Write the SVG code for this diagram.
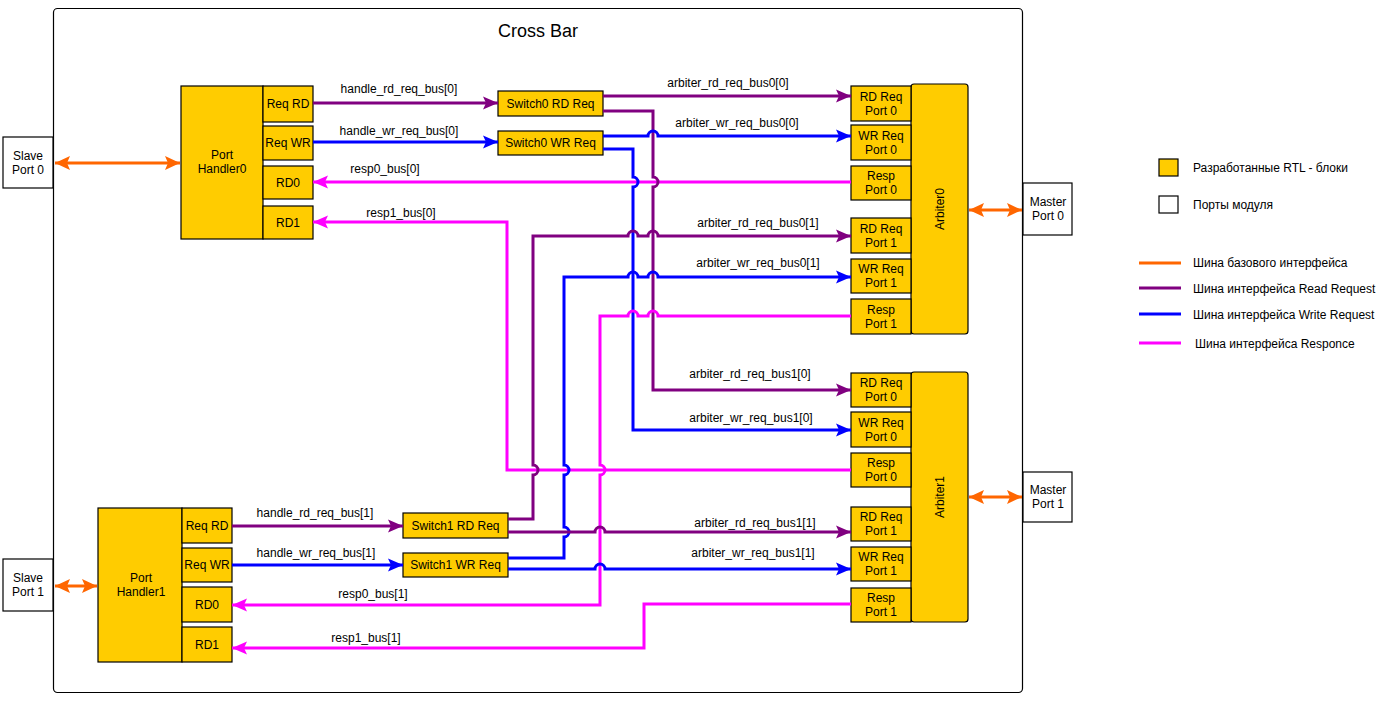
<svg xmlns="http://www.w3.org/2000/svg" width="1384" height="709" viewBox="0 0 1384 709">
<style>
text{font-family:"Liberation Sans",Arial,sans-serif;font-size:12px;fill:#000;text-anchor:middle;dominant-baseline:central}
.blk{fill:#FFCC00;stroke:#000;stroke-width:1.2}
.port{fill:#fff;stroke:#000;stroke-width:1.2}
.w{fill:none;stroke-width:3;stroke-linejoin:miter}
.p{stroke:#800080}.b{stroke:#0000FF}.m{stroke:#FF00FF}.o{stroke:#FF6600}
.lg{text-anchor:start}
</style>
<defs>
<marker id="mP" markerUnits="userSpaceOnUse" markerWidth="16" markerHeight="14" viewBox="0 0 16 14" refX="15" refY="7" orient="auto"><path d="M15,7 L0,0.5 L3,7 L0,13.5 Z" fill="#800080"/></marker>
<marker id="mB" markerUnits="userSpaceOnUse" markerWidth="16" markerHeight="14" viewBox="0 0 16 14" refX="15" refY="7" orient="auto"><path d="M15,7 L0,0.5 L3,7 L0,13.5 Z" fill="#0000FF"/></marker>
<marker id="mM" markerUnits="userSpaceOnUse" markerWidth="16" markerHeight="14" viewBox="0 0 16 14" refX="15" refY="7" orient="auto"><path d="M15,7 L0,0.5 L3,7 L0,13.5 Z" fill="#FF00FF"/></marker>
<marker id="mO" markerUnits="userSpaceOnUse" markerWidth="16" markerHeight="15" viewBox="0 0 16 15" refX="15" refY="7.5" orient="auto-start-reverse"><path d="M15,7.5 L0,0.5 L3,7.5 L0,14.5 Z" fill="#FF6600"/></marker>
</defs>

<g id="crossbar">
<rect x="53.5" y="8.5" width="969" height="684" rx="4" fill="#fff" stroke="#000" stroke-width="1.2"/>
<text x="538" y="31" style="font-size:18px">Cross Bar</text>
</g>

<g id="slave-port-0"><rect class="port" x="3" y="137" width="50" height="51"/><text x="28" y="156">Slave</text><text x="28" y="170">Port 0</text></g>
<g id="slave-port-1"><rect class="port" x="3" y="559" width="50" height="52"/><text x="28" y="578">Slave</text><text x="28" y="592">Port 1</text></g>
<g id="master-port-0"><rect class="port" x="1023" y="183" width="49" height="52"/><text x="1048" y="202">Master</text><text x="1048" y="216">Port 0</text></g>
<g id="master-port-1"><rect class="port" x="1023" y="472" width="49" height="50"/><text x="1048" y="490">Master</text><text x="1048" y="504">Port 1</text></g>

<g id="port-handler-0">
<rect class="blk" x="181" y="86" width="82" height="153"/><text x="222" y="155">Port</text><text x="222" y="169">Handler0</text>
<rect class="blk" x="263" y="86" width="50" height="36"/><text x="288" y="104">Req RD</text>
<rect class="blk" x="263" y="126" width="50" height="34"/><text x="288" y="143">Req WR</text>
<rect class="blk" x="263" y="166" width="50" height="33"/><text x="288" y="182.5">RD0</text>
<rect class="blk" x="263" y="206" width="50" height="33"/><text x="288" y="222.5">RD1</text>
</g>

<g id="port-handler-1">
<rect class="blk" x="98" y="508" width="84" height="154"/><text x="141" y="578">Port</text><text x="141" y="592">Handler1</text>
<rect class="blk" x="182" y="508" width="50" height="35"/><text x="207" y="525.5">Req RD</text>
<rect class="blk" x="182" y="548" width="50" height="34"/><text x="207" y="565">Req WR</text>
<rect class="blk" x="182" y="587" width="50" height="35"/><text x="207" y="604.5">RD0</text>
<rect class="blk" x="182" y="627" width="50" height="35"/><text x="207" y="644.5">RD1</text>
</g>

<g id="switch0-rd"><rect class="blk" x="498" y="91" width="105" height="25"/><text x="550.5" y="103.5">Switch0 RD Req</text></g>
<g id="switch0-wr"><rect class="blk" x="498" y="131" width="105" height="24"/><text x="550.5" y="143">Switch0 WR Req</text></g>
<g id="switch1-rd"><rect class="blk" x="403" y="513" width="105" height="25"/><text x="455.5" y="525.5">Switch1 RD Req</text></g>
<g id="switch1-wr"><rect class="blk" x="403" y="553" width="105" height="24"/><text x="455.5" y="565">Switch1 WR Req</text></g>

<g id="arbiter0">
<rect class="blk" x="911" y="84" width="57" height="250" rx="3"/>
<text transform="translate(940 209) rotate(-90)">Arbiter0</text>
<rect class="blk" x="851" y="86" width="60" height="35"/><text x="881" y="96.5">RD Req</text><text x="881" y="110.5">Port 0</text>
<rect class="blk" x="851" y="125" width="60" height="35"/><text x="881" y="135.5">WR Req</text><text x="881" y="149.5">Port 0</text>
<rect class="blk" x="851" y="166" width="60" height="34"/><text x="881" y="176">Resp</text><text x="881" y="190">Port 0</text>
<rect class="blk" x="851" y="218" width="60" height="35"/><text x="881" y="228.5">RD Req</text><text x="881" y="242.5">Port 1</text>
<rect class="blk" x="851" y="259" width="60" height="34"/><text x="881" y="269">WR Req</text><text x="881" y="283">Port 1</text>
<rect class="blk" x="851" y="299" width="60" height="35"/><text x="881" y="309.5">Resp</text><text x="881" y="323.5">Port 1</text>
</g>

<g id="arbiter1">
<rect class="blk" x="911" y="372" width="57" height="250" rx="3"/>
<text transform="translate(940 497) rotate(-90)">Arbiter1</text>
<rect class="blk" x="851" y="373" width="60" height="34"/><text x="881" y="383">RD Req</text><text x="881" y="397">Port 0</text>
<rect class="blk" x="851" y="412" width="60" height="35"/><text x="881" y="422.5">WR Req</text><text x="881" y="436.5">Port 0</text>
<rect class="blk" x="851" y="453" width="60" height="34"/><text x="881" y="463">Resp</text><text x="881" y="477">Port 0</text>
<rect class="blk" x="851" y="507" width="60" height="34"/><text x="881" y="517">RD Req</text><text x="881" y="531">Port 1</text>
<rect class="blk" x="851" y="547" width="60" height="34"/><text x="881" y="557">WR Req</text><text x="881" y="571">Port 1</text>
<rect class="blk" x="851" y="588" width="60" height="34"/><text x="881" y="598">Resp</text><text x="881" y="612">Port 1</text>
</g>

<g id="connectors">
<path class="w o" d="M55,163 H180" marker-start="url(#mO)" marker-end="url(#mO)"/>
<path class="w o" d="M55,586 H97" marker-start="url(#mO)" marker-end="url(#mO)"/>
<path class="w o" d="M969,210 H1022" marker-start="url(#mO)" marker-end="url(#mO)"/>
<path class="w o" d="M969,497 H1022" marker-start="url(#mO)" marker-end="url(#mO)"/>

<path class="w p" d="M313,103 H498" marker-end="url(#mP)"/>
<path class="w b" d="M313,142 H498" marker-end="url(#mB)"/>
<path class="w m" d="M851,182 H313" marker-end="url(#mM)"/>
<path class="w m" d="M851,470 H507 V222 H313" marker-end="url(#mM)"/>

<path class="w p" d="M603,96 H851" marker-end="url(#mP)"/>
<path class="w p" d="M603,111 H653 V177 A5 5 0 0 1 653 187 V390 H851" marker-end="url(#mP)"/>
<path class="w b" d="M603,136 H648 A5 5 0 0 1 658 136 H851" marker-end="url(#mB)"/>
<path class="w b" d="M603,149 H633 V177 A5 5 0 0 1 633 187 V430 H851" marker-end="url(#mB)"/>

<path class="w p" d="M508,519 H533 V475 A5 5 0 0 0 533 465 V236 H628 A5 5 0 0 1 638 236 H648 A5 5 0 0 1 658 236 H851" marker-end="url(#mP)"/>
<path class="w b" d="M508,558 H564 V537 A5 5 0 0 0 564 527 V475 A5 5 0 0 0 564 465 V277 H628 A5 5 0 0 1 638 277 H648 A5 5 0 0 1 658 277 H851" marker-end="url(#mB)"/>
<path class="w m" d="M851,316 H658 A5 5 0 0 0 648 316 H638 A5 5 0 0 0 628 316 H600 V465 A5 5 0 0 1 600 475 V605 H232" marker-end="url(#mM)"/>

<path class="w p" d="M508,532 H595 A5 5 0 0 1 605 532 H851" marker-end="url(#mP)"/>
<path class="w b" d="M508,569 H595 A5 5 0 0 1 605 569 H851" marker-end="url(#mB)"/>
<path class="w p" d="M232,526 H403" marker-end="url(#mP)"/>
<path class="w b" d="M232,565 H403" marker-end="url(#mB)"/>
<path class="w m" d="M851,604 H644 V648 H232" marker-end="url(#mM)"/>

<text x="399" y="89">handle_rd_req_bus[0]</text>
<text x="399" y="131">handle_wr_req_bus[0]</text>
<text x="385" y="169">resp0_bus[0]</text>
<text x="401" y="213">resp1_bus[0]</text>
<text x="728" y="83">arbiter_rd_req_bus0[0]</text>
<text x="737" y="123">arbiter_wr_req_bus0[0]</text>
<text x="758" y="223">arbiter_rd_req_bus0[1]</text>
<text x="758" y="263">arbiter_wr_req_bus0[1]</text>
<text x="750" y="374">arbiter_rd_req_bus1[0]</text>
<text x="751" y="418">arbiter_wr_req_bus1[0]</text>
<text x="755" y="523">arbiter_rd_req_bus1[1]</text>
<text x="753" y="553">arbiter_wr_req_bus1[1]</text>
<text x="315" y="513">handle_rd_req_bus[1]</text>
<text x="316" y="553">handle_wr_req_bus[1]</text>
<text x="373" y="594">resp0_bus[1]</text>
<text x="366" y="638">resp1_bus[1]</text>
</g>

<g id="legend">
<rect class="blk" x="1159" y="159" width="19" height="17"/>
<text class="lg" x="1193" y="167.5">Разработанные RTL - блоки</text>
<rect class="port" x="1159" y="196" width="19" height="17"/>
<text class="lg" x="1193" y="204.5">Порты модуля</text>
<path class="w o" d="M1139,263 H1181"/>
<text class="lg" x="1193" y="263">Шина базового интерфейса</text>
<path class="w p" d="M1139,288 H1181"/>
<text class="lg" x="1193" y="288.5">Шина интерфейса Read Request</text>
<path class="w b" d="M1139,314 H1181"/>
<text class="lg" x="1193" y="314.5">Шина интерфейса Write Request</text>
<path class="w m" d="M1139,343 H1181"/>
<text class="lg" x="1195" y="343.5">Шина интерфейса Responce</text>
</g>
</svg>
